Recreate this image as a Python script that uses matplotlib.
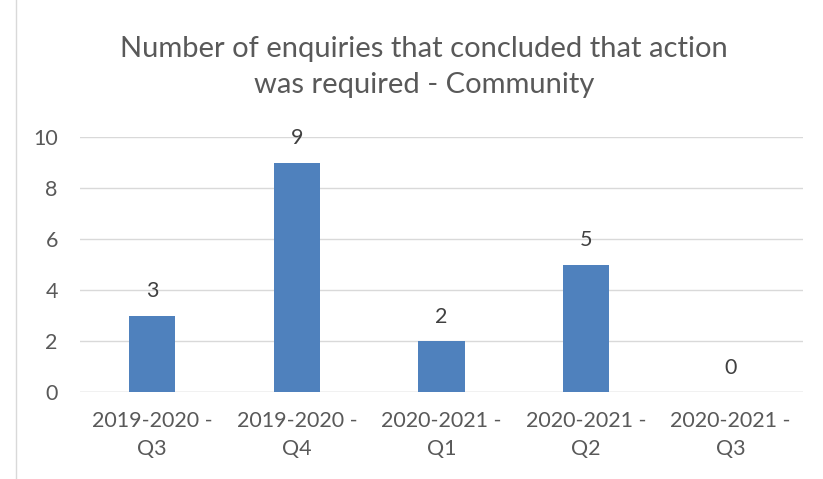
import matplotlib.pyplot as plt
import matplotlib.lines as mlines

categories = ["2019-2020 -\nQ3", "2019-2020 -\nQ4", "2020-2021 -\nQ1", "2020-2021 -\nQ2", "2020-2021 -\nQ3"]
values = [3, 9, 2, 5, 0]

plt.rcParams['font.family'] = ['Lato', 'DejaVu Sans']

fig = plt.figure(figsize=(8.23, 4.79), dpi=100)
ax = fig.add_axes([80/823, 1-392/479, 723/823, 255/479])

x = range(len(categories))
bars = ax.bar(x, values, width=0.32, color='#4f81bd', zorder=3)
for xi, v in zip(x, values):
    ax.text(xi, v + 0.55, str(v), ha='center', va='bottom', fontsize=15.5, color='#404040')

ax.set_xlim(-0.5, len(categories) - 0.5)
ax.set_ylim(0, 10)
ax.set_yticks([0, 2, 4, 6, 8, 10])
ax.set_xticks(list(x))
ax.set_xticklabels(categories, fontsize=15.5, color='#595959', linespacing=1.45)
ax.tick_params(axis='y', labelsize=15.5, labelcolor='#595959', length=0, pad=16)
ax.tick_params(axis='x', length=0, pad=14)
ax.grid(axis='y', color='#d9d9d9', linewidth=1, zorder=0)
for s in ax.spines.values():
    s.set_visible(False)
ax.axhline(0, color='#d9d9d9', linewidth=1, zorder=2)

fig.text(424/823, 1-67/479, "Number of enquiries that concluded that action\nwas required - Community",
         ha='center', va='center', fontsize=21, color='#595959', linespacing=1.45)

# chart border on the left edge
fig.add_artist(mlines.Line2D([16/823, 16/823], [0, 1], transform=fig.transFigure, color='#d9d9d9', linewidth=1))

fig.savefig('out.png', dpi=100)
